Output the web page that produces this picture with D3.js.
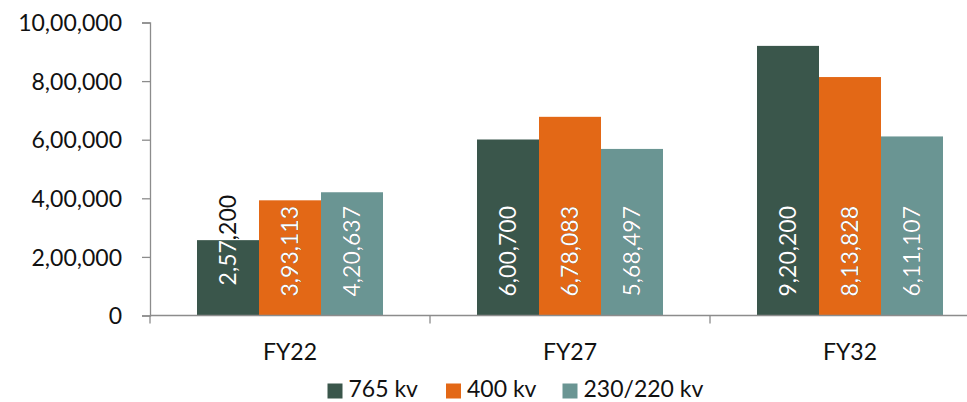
<!DOCTYPE html>
<html>
<head>
<meta charset="utf-8">
<script src="https://cdn.jsdelivr.net/npm/d3@7"></script>
<style>
  html, body { margin: 0; padding: 0; background: #fff; }
  svg { display: block; font-family: Lato, "Open Sans", sans-serif; }
</style>
</head>
<body>
<svg id="chart" width="967" height="402"></svg>
<script>
// Transmission line length by voltage class (ckm)
const categories = ["FY22", "FY27", "FY32"];
const seriesNames = ["765 kv", "400 kv", "230/220 kv"];
const kv765 = [257200, 600700, 920200];
const kv400 = [393113, 678083, 813828];
const kv230 = [420637, 568497, 611107];
const yTicks = [0, 200000, 400000, 600000, 800000, 1000000];

const seriesValues = [kv765, kv400, kv230];
const colors = ["#3a564b", "#e36816", "#6a9593"];

// Indian digit grouping: 10,00,000
function indian(n) {
  const s = String(Math.round(n));
  if (s.length <= 3) return s;
  const last3 = s.slice(-3);
  let rest = s.slice(0, -3);
  const parts = [];
  while (rest.length > 2) { parts.unshift(rest.slice(-2)); rest = rest.slice(0, -2); }
  if (rest.length) parts.unshift(rest);
  return parts.join(",") + "," + last3;
}

const svg = d3.select("#chart");
const fontSize = 23;
const axisColor = "#8c8c8c";

const x = d3.scaleBand().domain(categories).range([150, 990]).paddingInner(0).paddingOuter(0);
const groupPad = 47;
const xs = d3.scaleBand().domain(d3.range(seriesNames.length))
  .range([groupPad, x.bandwidth() - groupPad]).padding(0);
const y = d3.scaleLinear().domain([0, 1000000]).range([315.5, 22.5]);

// Y axis
const yAxis = svg.append("g").attr("transform", "translate(150,0)")
  .call(d3.axisLeft(y).tickValues(yTicks).tickFormat(indian).tickSize(8).tickPadding(20));
yAxis.select(".domain").attr("stroke", axisColor).attr("stroke-width", 1.3);
yAxis.selectAll(".tick line").attr("stroke", axisColor).attr("stroke-width", 1.3);
yAxis.selectAll(".tick text").attr("font-size", fontSize).attr("font-family", "Lato")
  .attr("fill", "#111").attr("dy", "0.36em");

// Bars
const rows = categories.map((c, i) => seriesValues.map((vals, s) => ({ cat: c, s, v: vals[i] })));
const groups = svg.append("g").selectAll("g").data(rows).join("g")
  .attr("transform", d => `translate(${x(d[0].cat)},0)`);

const defs = svg.append("defs");
groups.selectAll("rect").data(d => d).join("rect")
  .attr("x", d => xs(d.s))
  .attr("y", d => y(d.v))
  .attr("width", xs.bandwidth())
  .attr("height", d => y(0) - y(d.v))
  .attr("fill", d => colors[d.s]);

// X axis
const xAxis = svg.append("g").attr("transform", `translate(0,${y(0)})`)
  .call(d3.axisBottom(x).tickSize(0).tickPadding(0).tickFormat(""));
xAxis.select(".domain").attr("stroke", axisColor).attr("stroke-width", 1.6).attr("d", "M150,0H990");
xAxis.selectAll(".tick").remove();
const bounds = x.domain().map(c => x(c)).concat([x(categories[categories.length - 1]) + x.bandwidth()]);
xAxis.selectAll("line.sep").data(bounds).join("line").attr("class", "sep")
  .attr("x1", d => d).attr("x2", d => d).attr("y1", 0).attr("y2", 8)
  .attr("stroke", axisColor).attr("stroke-width", 1.3);
svg.append("g").selectAll("text").data(categories).join("text")
  .attr("x", d => x(d) + x.bandwidth() / 2)
  .attr("y", 359.5)
  .attr("text-anchor", "middle")
  .attr("font-size", fontSize)
  .attr("fill", "#111")
  .text(d => d);

// Value labels, rotated, white inside the bar; the part sticking out is dark
const flat = rows.flat();
const labelLayer = svg.append("g");
flat.forEach((d, i) => {
  const bx = x(d.cat) + xs(d.s);
  const bw = xs.bandwidth();
  const top = y(d.v), base = y(0);
  const cx = bx + bw / 2 + fontSize * 0.36;
  const txt = indian(d.v);
  const probe = labelLayer.append("text").attr("font-size", fontSize).text(txt);
  const len = probe.node().getComputedTextLength();
  probe.remove();
  let startY;
  if (base - top < len + 24) startY = top + len / 2; // centred on the bar top
  else startY = base - 19;
  const clipId = "clip" + i;
  defs.append("clipPath").attr("id", clipId).append("rect")
    .attr("x", bx).attr("y", top).attr("width", bw).attr("height", base - top);
  const make = (parent, fill) => parent.append("text")
    .attr("transform", `translate(${cx},${startY}) rotate(-90)`)
    .attr("font-size", fontSize)
    .attr("fill", fill)
    .text(txt);
  make(labelLayer, "#111");
  make(labelLayer.append("g").attr("clip-path", `url(#${clipId})`), "#ffffff");
});

// Legend
const legendX = [327.5, 446, 562.5];
const legend = svg.append("g").selectAll("g").data(seriesNames).join("g")
  .attr("transform", (d, i) => `translate(${legendX[i]},0)`);
legend.append("rect").attr("x", 0).attr("y", 383.5).attr("width", 15).attr("height", 15)
  .attr("fill", (d, i) => colors[i]);
legend.append("text").attr("x", 21).attr("y", 397).attr("font-size", fontSize)
  .attr("fill", "#111").text(d => d);
</script>
</body>
</html>
